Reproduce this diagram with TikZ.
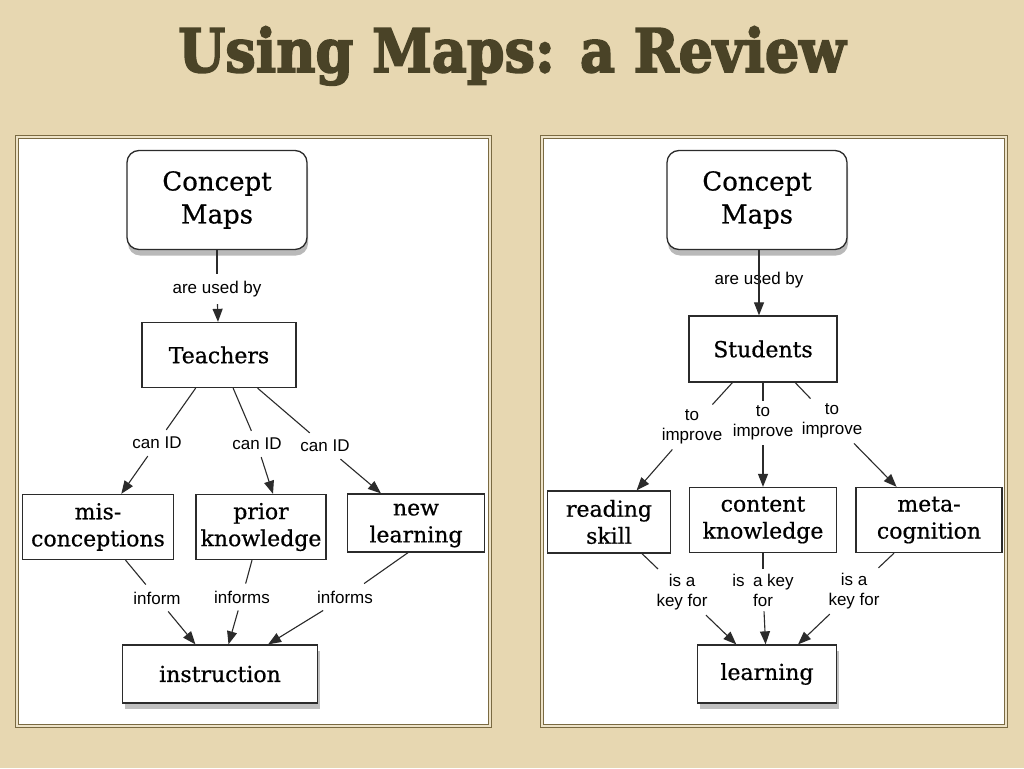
\documentclass[tikz,border=0pt]{standalone}
\usepackage{fontspec}
\setsansfont{Liberation Sans}
\newfontfamily\boxfont{DejaVu Serif}[FakeBold=0.6]
\newfontfamily\titlefont{DejaVu Serif Bold}[FakeBold=3]
\usepackage{tikz}
\usetikzlibrary{positioning,arrows.meta,shadows}
\definecolor{parch}{HTML}{E7D7B1}
\definecolor{titleolive}{HTML}{4A4327}
\definecolor{frameolive}{HTML}{7A6A42}
\definecolor{boxink}{HTML}{2B2B2B}

\begin{document}
\begin{tikzpicture}[x=1pt,y=-1pt,
  panel/.style={draw=frameolive,double=parch!70!white,double distance=2pt,line width=0.9pt,fill=white},
  cbox/.style={draw=boxink,line width=1.3pt,fill=white,inner sep=0pt,align=center,
    font=\boxfont\fontsize{22}{27}\selectfont},
  cmap/.style={cbox,rounded corners=12pt,minimum width=180pt,minimum height=99pt,
    font=\boxfont\fontsize{26}{33}\selectfont,
    drop shadow={shadow xshift=1pt,shadow yshift=-6pt,opacity=.55}},
  shbox/.style={cbox,drop shadow={shadow xshift=2pt,shadow yshift=-6pt,opacity=.5}},
  lbl/.style={font=\sffamily\fontsize{17}{20}\selectfont,align=center,inner xsep=3pt,inner ysep=7pt},
  lbl2/.style={lbl,inner ysep=5pt},
  link/.style={draw=boxink,line width=1.1pt},
  arr/.style={link,-{Triangle[length=13pt,width=10pt]}}]
\useasboundingbox (0,0) rectangle (1024,768);
\fill[parch] (0,0) rectangle (1024,768);
\node[anchor=base,text=titleolive,inner sep=0pt] (title) at (512,72)
  {\scalebox{0.9}[1]{\titlefont\fontsize{60}{60}\selectfont Using Maps: a Review}};
% panels
\path[panel] (17,137) rectangle (490,726);
\path[panel] (542,137) rectangle (1006,726);

% left map: teachers
\node[cmap] (cmA) at (217,200) {Concept\\Maps};
\node[cbox,minimum width=154pt,minimum height=65pt] (teach) at (219,355) {Teachers};
\node[cbox,minimum width=151pt,minimum height=65pt] (misc) at (98,527) {mis-\\conceptions};
\node[cbox,minimum width=130pt,minimum height=65pt] (prior) at (261,527) {prior\\knowledge};
\node[cbox,minimum width=137pt,minimum height=58pt] (newl) at (416,523) {new\vphantom{l}\\learning};
\node[shbox,minimum width=195pt,minimum height=58pt] (instr) at (220,674) {instruction};
\node[lbl] (usedA) at (217,289) {are used by};
\node[lbl] (canA) at (157,443) {can ID};
\node[lbl] (canB) at (257,444) {can ID};
\node[lbl] (canC) at (325,446) {can ID};
\node[lbl] (infA) at (157,598) {inform};
\node[lbl] (infB) at (242,597) {informs};
\node[lbl] (infC) at (345,597) {informs};
\draw[link] (cmA) -- (usedA);
\draw[arr] (usedA) -- (teach);
\draw[link] (teach) -- (canA);
\draw[link] (teach) -- (canB);
\draw[link] (teach) -- (canC);
\draw[arr] (canA) -- (misc);
\draw[arr] (canB) -- ([xshift=12pt]prior.north);
\draw[arr] (canC) -- (newl);
\draw[link] (misc) -- (infA);
\draw[link] (prior) -- (infB);
\draw[link] ([xshift=-8pt]newl.south) -- (infC);
\draw[arr] (infA) -- (instr);
\draw[arr] (infB) -- (instr);
\draw[arr] (infC) -- (instr);

% right map: students
\node[cmap] (cmB) at (757,200) {Concept\\Maps};
\node[cbox,minimum width=148pt,minimum height=66pt] (stud) at (763,349) {Students};
\node[cbox,minimum width=123pt,minimum height=62pt] (read) at (609,522) {reading\\skill};
\node[cbox,minimum width=147pt,minimum height=65pt] (cont) at (763,520) {content\\knowledge};
\node[cbox,minimum width=146pt,minimum height=65pt] (meta) at (929,520) {meta-\\cognition};
\node[shbox,minimum width=139pt,minimum height=58pt] (learn) at (767,674) {learning};
\node[lbl,inner sep=1pt] (usedB) at (759,280) {are used by};
\draw[arr] (cmB.south -| usedB) -- (stud.north -| usedB);
\node[lbl2] (impA) at (692,427) {to\\improve};
\node[lbl2] (impB) at (763,423) {to\\improve};
\node[lbl2] (impC) at (832,421) {to\\improve};
\node[lbl2] (keyA) at (682,592) {is a\\key for};
\node[lbl2] (keyB) at (763,590) {is\enspace a key\\for};
\node[lbl2] (keyC) at (854,591) {is a\\key for};
\draw[link] (stud) -- (impA);
\draw[link] (stud) -- (impB);
\draw[link] (stud) -- (impC);
\draw[arr] (impA) -- (read);
\draw[arr] (impB) -- (cont);
\draw[arr] (impC) -- (meta);
\draw[link] (read) -- (keyA);
\draw[link] (cont) -- (keyB);
\draw[link] (meta) -- (keyC);
\draw[arr] (keyA) -- (learn);
\draw[arr] (keyB) -- (learn);
\draw[arr] (keyC) -- (learn);
\end{tikzpicture}
\end{document}
